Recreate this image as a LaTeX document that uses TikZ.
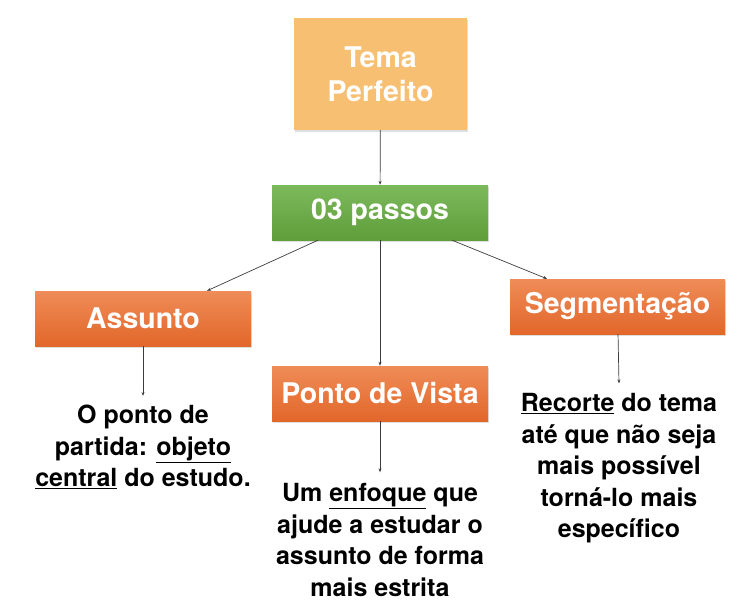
\documentclass[tikz,border=0pt]{standalone}
\usepackage{fontspec}
\setmainfont{TeX Gyre Heros}
\usetikzlibrary{arrows.meta,calc,positioning,shadows}
\definecolor{temaorange}{RGB}{247,191,113}
\definecolor{passgreenA}{RGB}{124,185,92}
\definecolor{passgreenB}{RGB}{95,158,58}
\definecolor{stepA}{RGB}{239,140,87}
\definecolor{stepB}{RGB}{226,103,43}
\definecolor{linegray}{RGB}{60,60,60}

\begin{document}
\begin{tikzpicture}[x=1pt,y=-1pt,
    box/.style={minimum width=216pt,minimum height=55pt,inner sep=0pt,text=white,
      font=\fontsize{28.5}{34}\selectfont\bfseries,
      drop shadow={opacity=0.25,shadow xshift=0.8pt,shadow yshift=-1.5pt}},
    greenbox/.style={box,top color=passgreenA,bottom color=passgreenB},
    orangebox/.style={box,top color=stepA,bottom color=stepB},
    note/.style={align=center,inner sep=0pt,font=\fontsize{25}{31.5}\selectfont\bfseries},
    link/.style={draw=linegray,line width=0.7pt,-{Stealth[length=4pt,width=3pt]}}]
  \useasboundingbox (0,0) rectangle (750,613);
  \node[box,fill=temaorange,minimum width=173pt,minimum height=112pt,align=center] (tema) at (380.5,74) {Tema\\Perfeito};
  \node[greenbox] (passos) at (380,212.5) {03 passos};
  \node[orangebox] (assunto) at (143,318.5) {Assunto};
  \node[orangebox] (ponto) at (380,393.5) {Ponto de Vista};
  \node[orangebox,minimum width=215pt] (segm) at (617.5,306.5) {Segmentação};
  \node[note] (assunto txt) at (143,447) {O ponto de\\partida: \underline{objeto}\\\underline{central} do estudo.};
  \node[note] (ponto txt) at (380,540) {Um \underline{enfoque} que\\ajude a estudar o\\assunto de forma\\mais estrita};
  \node[note] (segm txt) at (619,468.5) {\underline{Recorte} do tema\\até que não seja\\mais possível\\torná-lo mais\\específico};
  \draw[link] (tema) -- (passos);
  \draw[link] ([xshift=-62pt]passos.south) -- ([xshift=64pt]assunto.north);
  \draw[link] (passos) -- (ponto);
  \draw[link] ([xshift=72pt]passos.south) -- ([xshift=-70.5pt]segm.north);
  \draw[link] (assunto) -- ([yshift=9pt]assunto txt.north);
  \draw[link] (ponto) -- ([yshift=11pt]ponto txt.north);
  \draw[link] (segm) -- ([yshift=10pt]segm txt.north);
\end{tikzpicture}
\end{document}
